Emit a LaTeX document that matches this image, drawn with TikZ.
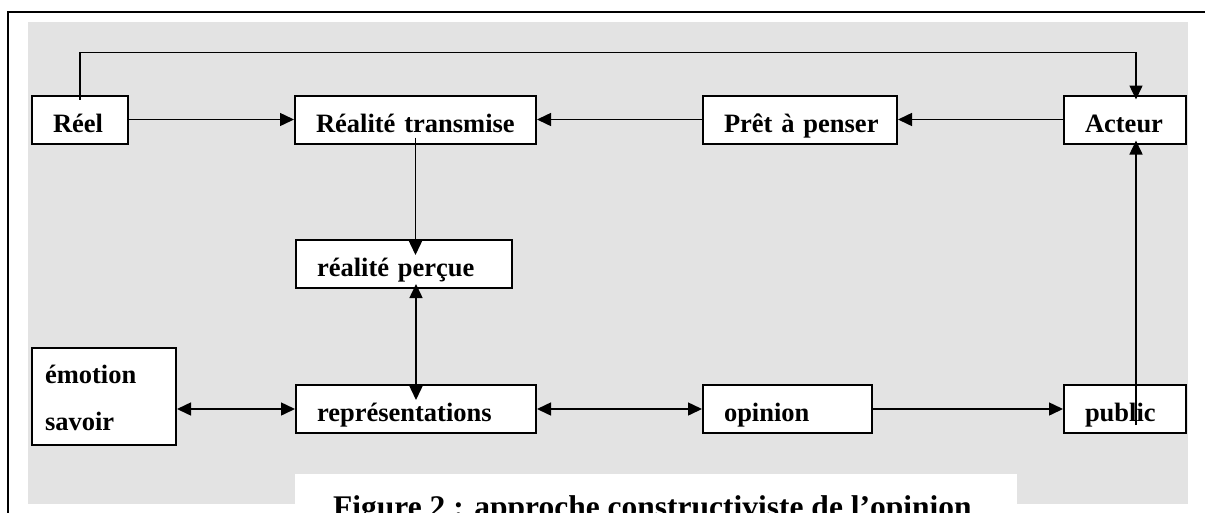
\documentclass[tikz,border=0pt]{standalone}
\usepackage{fontspec}
\setmainfont{Liberation Serif}
\usetikzlibrary{arrows.meta}
\definecolor{fondgris}{RGB}{227,227,227}

\begin{document}
\begin{tikzpicture}[
    x=1pt, y=-1pt,
    font=\bfseries\fontsize{26.5}{47}\selectfont
]
\tikzset{
    mybox/.style = {rectangle, draw=black, line width=2pt, fill=white, align=left,
        inner xsep=21pt, inner ysep=0pt, minimum height=48pt, text height=25pt, text depth=0pt},
    arr/.style = {-{Triangle[length=14pt,width=13pt]}, line width=1.5pt},
    darr/.style = {{Triangle[length=14pt,width=13pt]}-{Triangle[length=14pt,width=13pt]}, line width=1.5pt}
}
\useasboundingbox (0,0) rectangle (1205,512);
% fond et cadre
\fill[fondgris] (28,22) rectangle (1188,504);
\fill[white] (295,474) rectangle (1017,520);
\draw[line width=2pt] (8,520) -- (8,12) -- (1210,12);
% boites
\node[mybox, text width=54pt]  at (80,119.5)   (reel)    {Réel};
\node[mybox, text width=199pt] at (415.5,119.5) (rtrans)  {Réalité~transmise};
\node[mybox, text width=152pt] at (800,119.5)  (pret)    {Prêt~à~penser};
\node[mybox, text width=80pt]  at (1125,119.5) (acteur)  {Acteur};
\node[mybox, text width=174pt] at (404,264)    (rpercue) {réalité~perçue};
\node[mybox, text width=118pt, inner xsep=13pt, minimum height=97pt,
      text height=20pt, text depth=47pt] at (104,396.5) (emo) {émotion\\savoir};
\node[mybox, text width=198pt] at (416,409)    (rep)     {représentations};
\node[mybox, text width=127pt] at (787.5,409)  (opinion) {opinion};
\node[mybox, text width=80pt]  at (1125,409)   (public)  {public};
% fleches
\draw[arr] (reel) -- (rtrans);
\draw[arr] (pret) -- (rtrans);
\draw[arr] (acteur) -- (pret);
\draw[arr, shorten <=-7pt, shorten >=-16pt] (rtrans.south) -- (rtrans.south |- rpercue.north);
\draw[darr, shorten <=-5pt, shorten >=-16pt] (rep.north |- rpercue.south) -- (rep.north);
\draw[darr] (emo.east |- rep.west) -- (rep);
\draw[darr] (rep) -- (opinion);
\draw[arr] (opinion) -- (public);
\draw[arr, shorten <=-41pt, shorten >=-4pt] ([xshift=11pt]public.north) -- ([xshift=11pt]acteur.south);
\draw[arr, shorten >=-5pt] ([yshift=-5pt]reel.north) -- ++(0,-47) -| ([xshift=11pt]acteur.north);
% legende
\node[anchor=base west, font=\bfseries\fontsize{31.5}{36}\selectfont, inner sep=0pt]
    at (333,517) (caption) {Figure 2 : approche constructiviste de l’opinion};
\end{tikzpicture}
\end{document}
